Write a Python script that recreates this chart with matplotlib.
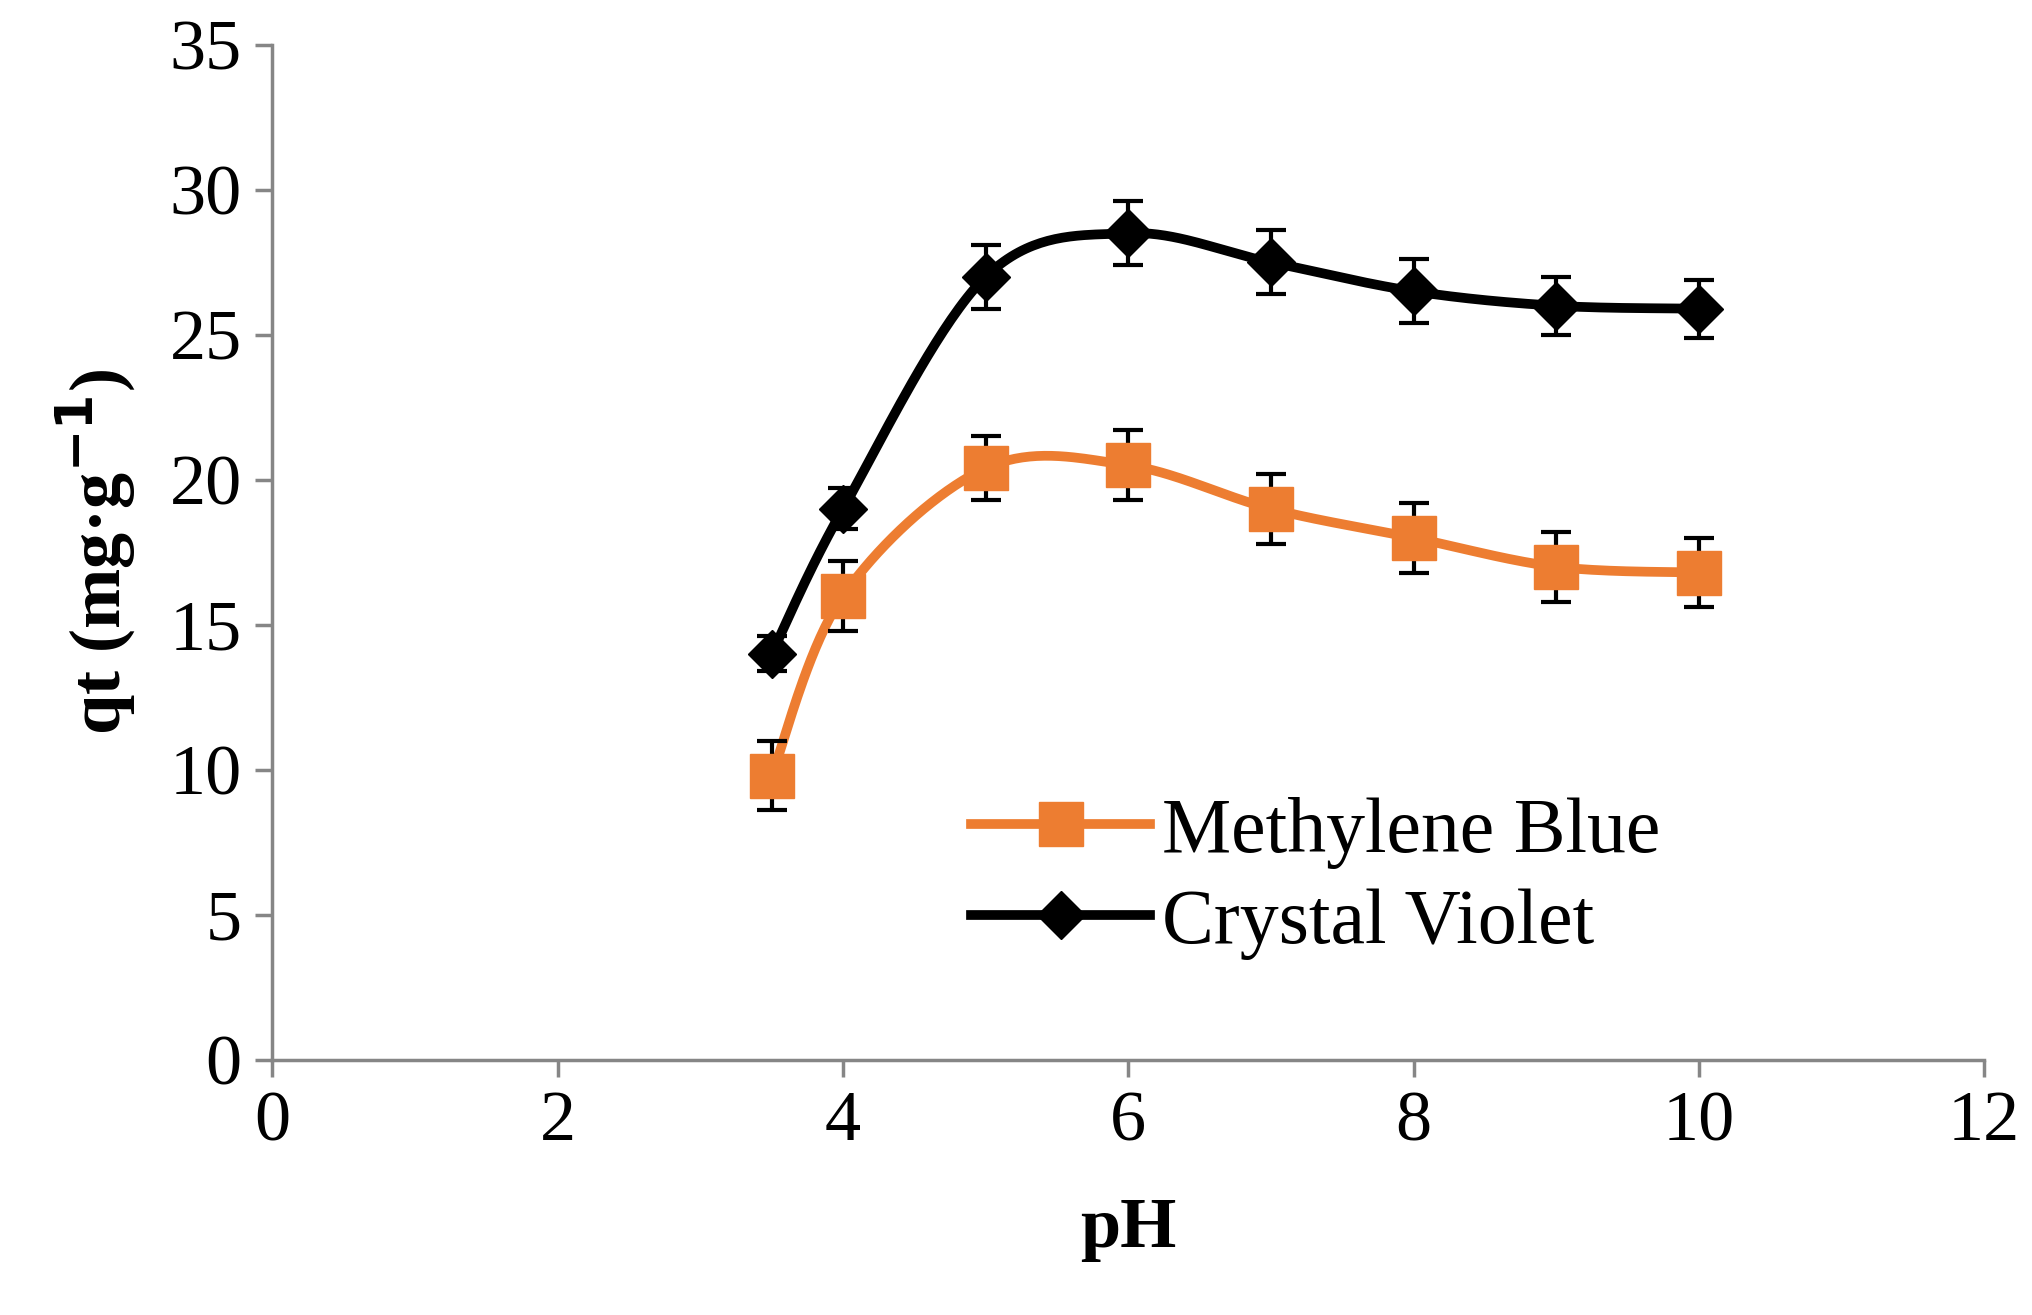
import numpy as np
import matplotlib.pyplot as plt

ph = [3.5, 4, 5, 6, 7, 8, 9, 10]
mb = [9.8, 16.0, 20.4, 20.5, 19.0, 18.0, 17.0, 16.8]
mb_err = [1.2, 1.2, 1.1, 1.2, 1.2, 1.2, 1.2, 1.2]
cv = [14.0, 19.0, 27.0, 28.5, 27.5, 26.5, 26.0, 25.9]
cv_err = [0.6, 0.7, 1.1, 1.1, 1.1, 1.1, 1.0, 1.0]


def smooth(x, y, n=40, t=0.5):
    # Excel-like cardinal spline through the points
    x = np.asarray(x, float)
    y = np.asarray(y, float)
    px = np.concatenate([[x[0]], x, [x[-1]]])
    py = np.concatenate([[y[0]], y, [y[-1]]])
    xs, ys = [], []
    s = np.linspace(0, 1, n)
    for i in range(1, len(px) - 2):
        m1x = t * (px[i + 1] - px[i - 1]); m1y = t * (py[i + 1] - py[i - 1])
        m2x = t * (px[i + 2] - px[i]); m2y = t * (py[i + 2] - py[i])
        h00 = 2 * s**3 - 3 * s**2 + 1; h10 = s**3 - 2 * s**2 + s
        h01 = -2 * s**3 + 3 * s**2; h11 = s**3 - s**2
        xs.append(h00 * px[i] + h10 * m1x + h01 * px[i + 1] + h11 * m2x)
        ys.append(h00 * py[i] + h10 * m1y + h01 * py[i + 1] + h11 * m2y)
    return np.concatenate(xs), np.concatenate(ys)


plt.rcParams['font.family'] = ['Liberation Serif', 'DejaVu Serif']
fig = plt.figure(figsize=(20.33, 13.15), dpi=100)
ax = fig.add_axes([0.134, 0.194, 0.842, 0.772])

orange = '#ED7D31'
sx, sy = smooth(ph, mb)
ax.plot(sx, sy, color=orange, lw=7, zorder=2)
ax.errorbar(ph, mb, yerr=mb_err, fmt='none', ecolor='black', elinewidth=3, capsize=11, capthick=3, zorder=3)
ax.plot(ph, mb, ls='none', marker='s', ms=32, color=orange, zorder=4)

sx, sy = smooth(ph, cv)
ax.plot(sx, sy, color='black', lw=7, zorder=2)
ax.errorbar(ph, cv, yerr=cv_err, fmt='none', ecolor='black', elinewidth=3, capsize=11, capthick=3, zorder=3)
ax.plot(ph, cv, ls='none', marker='D', ms=24, color='black', zorder=4)

h1, = ax.plot([], [], color=orange, lw=7, marker='s', ms=32)
h2, = ax.plot([], [], color='black', lw=7, marker='D', ms=24)
ax.legend([h1, h2], ['Methylene Blue', 'Crystal Violet'], loc='upper left',
          bbox_to_anchor=(0.39, 0.29), frameon=False, fontsize=56,
          handlelength=2.3, labelspacing=0.25, borderaxespad=0, handletextpad=0.15)

ax.set_xlim(0, 12)
ax.set_ylim(0, 35)
ax.set_xticks(range(0, 13, 2))
ax.set_yticks(range(0, 36, 5))
for s in ['top', 'right']:
    ax.spines[s].set_visible(False)
for s in ['left', 'bottom']:
    ax.spines[s].set_color('#868686')
    ax.spines[s].set_linewidth(2.5)
ax.tick_params(direction='out', length=12, width=2.5, color='#868686', labelsize=52, pad=10)
ax.set_xlabel('pH', fontsize=52, fontweight='bold', labelpad=30)
ax.set_ylabel('qt (mg·g$^{\\mathbf{-1}}$)', fontsize=52, fontweight='bold', labelpad=22)

fig.savefig('out.png', dpi=100)
